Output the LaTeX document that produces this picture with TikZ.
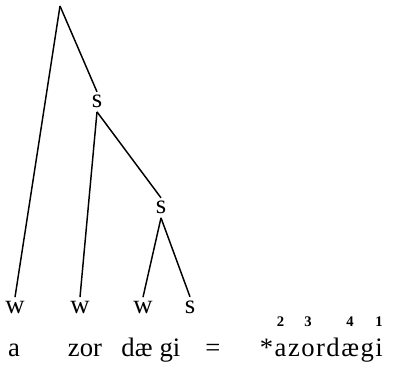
\documentclass[tikz,border=0pt]{standalone}
\usepackage{fontspec}
\setmainfont{Liberation Serif}
\newcommand{\stressnum}[2]{\ooalign{#2\cr\hidewidth\raisebox{1.1em}{\fontsize{11}{12}\selectfont\bfseries #1}\hidewidth\cr}}
\newcommand{\lsp}{\kern1.1pt}
\begin{document}
\begin{tikzpicture}[x=0.75pt,y=-0.75pt,
  lab/.style={font=\fontsize{20}{22}\selectfont, inner sep=2.5pt, anchor=base},
  txt/.style={font=\fontsize{20}{22}\selectfont, inner sep=0pt, anchor=base},
  edge/.style={line width=1.1pt}]
\useasboundingbox (0,0) rectangle (393,378);
\coordinate (root) at (60,6);
\node[lab] (s1) at (97,108) {s};
\node[lab] (s2) at (161,214) {s};
\node[lab] (w1) at (15,313) {w};
\node[lab] (w2) at (80,313) {w};
\node[lab] (w3) at (143,313) {w};
\node[lab] (s3) at (190,313) {s};
\draw[edge] (root) -- (w1.north);
\draw[edge] (root) -- (s1.north);
\draw[edge] (s1.south) -- (w2.north);
\draw[edge] (s1.south) -- (s2.north);
\draw[edge] (s2.south) -- (w3.north);
\draw[edge] (s2.south) -- (s3.north);
\node[txt] (a) at (14,356) {a};
\node[txt] (zor) at (85,356) {zor};
\node[txt] (dae) at (137,356) {dæ};
\node[txt] (gi) at (170,356) {gi};
\node[txt] (eq) at (213,356) {=};
\node[txt, anchor=base east] (word) at (383,356) {*\lsp\stressnum{2}{a}\lsp z\lsp\stressnum{3}{o}\lsp r\lsp d\lsp\stressnum{4}{æ}\lsp g\lsp\stressnum{1}{i}};
\end{tikzpicture}
\end{document}
